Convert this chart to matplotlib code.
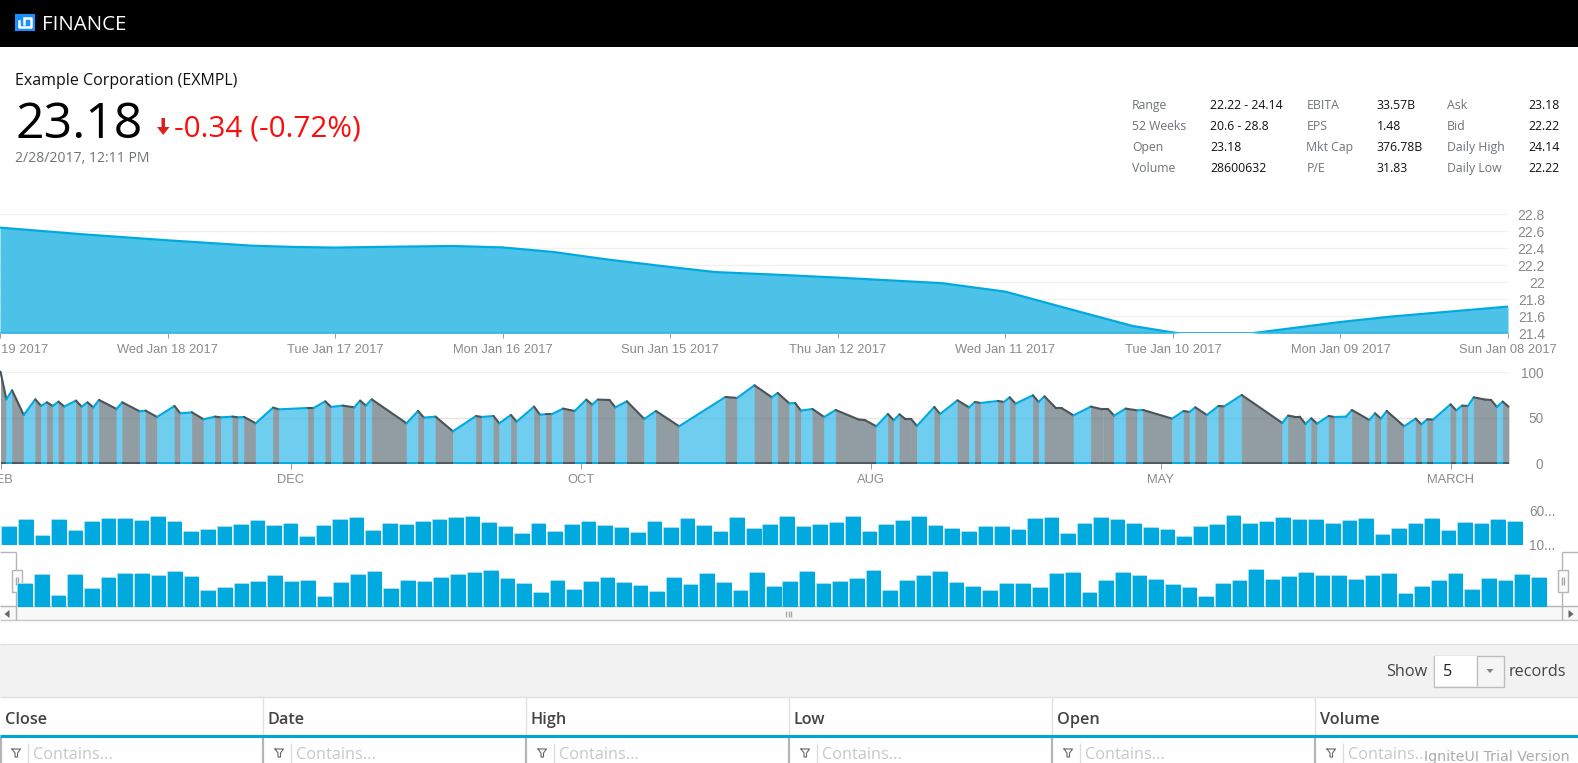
import matplotlib
matplotlib.use('Agg')
import matplotlib.pyplot as plt
from matplotlib.patches import Rectangle

W, H = 1578, 763
UI_FONT = 'Open Sans'
CHART_FONT = 'Liberation Sans'

# price chart, x is position in sessions from the left label
price_x = [0, 0.49, 1, 1.5, 1.75, 2, 2.25, 2.7, 3, 3.3, 3.63, 4, 4.27, 4.65, 5, 5.62, 6,
           6.44, 6.76, 7, 7.1, 7.41, 7.51, 8, 8.3, 9]
price_y = [22.643, 22.565, 22.494, 22.431, 22.416, 22.408, 22.416, 22.427, 22.41, 22.357,
           22.267, 22.18, 22.12, 22.088, 22.055, 21.99, 21.89, 21.655, 21.486, 21.41,
           21.385, 21.385, 21.41, 21.533, 21.596, 21.714]
price_labels = ['Thu Jan 19 2017', 'Wed Jan 18 2017', 'Tue Jan 17 2017', 'Mon Jan 16 2017',
                'Sun Jan 15 2017', 'Thu Jan 12 2017', 'Wed Jan 11 2017', 'Tue Jan 10 2017',
                'Mon Jan 09 2017', 'Sun Jan 08 2017']
price_ticks = [21.4, 21.6, 21.8, 22, 22.2, 22.4, 22.6, 22.8]

# indicator chart, x is in trading-day steps
rsi_x = [0, 1, 2, 4, 6, 7, 8, 9, 10, 11, 13, 14, 15, 16, 17, 20, 21, 24, 25, 27, 30, 31, 33, 35,
         37, 38, 40, 41, 42, 44, 47, 48, 53, 54, 56, 57, 59, 61, 62, 63, 64, 70, 72, 73, 75, 78,
         82, 83, 85, 86, 88, 89, 92, 93, 94, 95, 97, 99, 101, 102, 103, 105, 106, 108, 111, 113,
         117, 125, 127, 130, 133, 134, 136, 137, 138, 140, 142, 144, 148, 149, 151, 153, 154,
         155, 156, 157, 158, 161, 162, 165, 167, 168, 169, 172, 173, 174, 175, 178, 179, 180,
         182, 183, 185, 188, 190, 191, 192, 194, 196, 197, 202, 204, 205, 206, 208, 210, 211,
         214, 221, 222, 223, 224, 225, 226, 227, 229, 230, 232, 233, 236, 237, 238, 239, 242,
         244, 245, 246, 247, 250, 251, 252, 253, 254, 256, 257, 258, 259, 260]
rsi_y = [100.7, 70.3, 80.2, 53.1, 70.3, 63, 67, 63, 67.8, 62.3, 68.9, 62.3, 67, 61.5, 69.6, 59.7,
         67, 57.1, 57.9, 50.9, 63, 54.9, 56, 48.4, 51.3, 50.5, 51.3, 50.5, 50.9, 44, 61.2, 59.3,
         60.8, 60.8, 68.1, 61.9, 63.4, 61.5, 68.9, 63.4, 70.3, 44, 57.5, 50.2, 51.3, 35.2, 52,
         50.9, 52, 44, 53.1, 45.8, 62.3, 53.5, 53.8, 53.8, 60.1, 57.5, 70, 64.5, 70, 69.6, 61.5,
         68.1, 48.7, 57.5, 40.7, 72.9, 71.8, 85.7, 72.5, 77.3, 65.9, 66.3, 57.9, 59.7, 50.9,
         58.6, 48, 47.6, 40.7, 54.2, 47.3, 53.8, 48.7, 48.7, 41, 61.9, 54.2, 69.2, 61.5, 67.4,
         66.3, 68.5, 67.4, 72.5, 65.6, 74.7, 67.4, 73.6, 60.4, 60.4, 52.7, 62.3, 59.3, 59.3,
         52.4, 60.1, 58.2, 58.6, 49.1, 57.5, 56.4, 61.5, 53.1, 63, 62.6, 75.1, 44.3, 52.4, 51.3,
         51.3, 43.2, 49.5, 43.6, 52, 50.9, 51.3, 58.6, 47.6, 54.9, 49.1, 57.5, 40.7, 49.1, 42.9,
         48.4, 48, 64.8, 58.2, 63.4, 63, 72.5, 70, 69.6, 61.9, 67.8, 62.3]
rsi_tick_x = [0, 50, 100, 150, 200, 250]
rsi_tick_labels = ['FEB', 'DEC', 'OCT', 'AUG', 'MAY', 'MARCH']
rsi_ticks = [0, 50, 100]

# volume in millions, same series on the chart and on the range selector
volume = [36.5, 46.5, 22, 47, 30.5, 43, 48, 47.5, 45.5, 50.5, 44, 28, 31, 35.5, 38.5, 45, 38, 40,
          21, 37, 47, 50, 30, 40, 38.5, 43.5, 47, 49, 51, 41.5, 35.5, 25, 40, 29, 38.5, 43, 37,
          34, 27, 43, 34.5, 48, 37, 28, 49, 32.5, 38.5, 50.5, 36.5, 38.5, 41.5, 51.5, 28, 39.5,
          45.5, 50.5, 37, 32.5, 28, 36, 35.5, 31.5, 48, 49.5, 25, 40, 49.5, 46, 41, 35, 31.5, 21,
          36, 39, 52, 41, 44, 49, 46, 46, 41, 45.5, 48, 24, 32.5, 40, 48, 29.5, 42, 40, 46.5, 43]
volume_ticks = [10, 60]
volume_labels = ['10...', '60...']

stats_rows = [
    ['Range', '22.22 - 24.14', 'EBITA', '33.57B', 'Ask', '23.18'],
    ['52 Weeks', '20.6 - 28.8', 'EPS', '1.48', 'Bid', '22.22'],
    ['Open', '23.18', 'Mkt Cap', '376.78B', 'Daily High', '24.14'],
    ['Volume', '28600632', 'P/E', '31.83', 'Daily Low', '22.22'],
]
grid_columns = ['Close', 'Date', 'High', 'Low', 'Open', 'Volume']

BLUE_LINE = '#00aadf'
DARK_LINE = '#4a5358'
TICK_GRAY = '#8a8a8a'
GRID = '#f0f0f0'


def px_axes(fig, left, top, right, bottom):
    ax = fig.add_axes([left / W, 1 - bottom / H, (right - left) / W, (bottom - top) / H])
    ax.patch.set_alpha(0)
    for spine in ax.spines.values():
        spine.set_visible(False)
    return ax


def pt(px):
    return px * 0.72


def ui_text(ax, x, y, s, size, color='black', **kw):
    kw.setdefault('family', UI_FONT)
    ax.text(x, y, s, fontsize=pt(size), color=color, va='baseline', **kw)


def box(ax, x0, y0, x1, y1, fc='none', ec='none', lw=1, z=1):
    ax.add_patch(Rectangle((x0, y0), x1 - x0, y1 - y0, facecolor=fc, edgecolor=ec, linewidth=lw, zorder=z))


def hline(ax, x0, x1, y, color, lw=1, z=2):
    ax.plot([x0, x1], [y, y], color=color, lw=lw, solid_capstyle='butt', zorder=z)


def vline(ax, x, y0, y1, color, lw=1, z=2):
    ax.plot([x, x], [y0, y1], color=color, lw=lw, solid_capstyle='butt', zorder=z)


def draw_page(ax):
    ax.set_xlim(0, W)
    ax.set_ylim(H, 0)
    ax.axis('off')

    # header bar
    box(ax, 0, 0, W, 47, fc='black')
    box(ax, 15, 14, 35, 31, fc='#1a8fff', z=2)
    ax.plot([19.5, 19.5, 31, 31, 26], [21, 27, 27, 18, 18], color='white', lw=1.8, zorder=3)
    ax.plot([24.5, 24.5], [18, 24], color='white', lw=1.8, zorder=3)
    ui_text(ax, 42.5, 29.5, 'FINANCE', 20.5, 'white')

    # quote
    ui_text(ax, 15.5, 85, 'Example Corporation (EXMPL)', 16, '#111111')
    ui_text(ax, 15, 138, '23.18', 50, 'black')
    ax.fill([161.5, 165, 165, 169.5, 163.2, 157, 161.5], [118, 118, 127, 127, 135, 127, 127],
            color='#d9201f', lw=0, zorder=3)
    ui_text(ax, 174, 136.5, '-0.34 (-0.72%)', 29.8, '#fa0f0f')
    ui_text(ax, 15.5, 161.5, '2/28/2017, 12:11 PM', 14, '#6e7378')

    # stats table
    col_x = [1132, 1210, 1306.5, 1376.5, 1447, 1528]
    for r, row in enumerate(stats_rows):
        y = 109.3 + r * 21
        for c, s in enumerate(row):
            ui_text(ax, col_x[c], y, s, 12.2, '#6e7378' if c % 2 == 0 else '#111111')

    # range selector frame and scrollbar
    sel = '#b5b5b5'
    box(ax, 0, 606, W, 620, fc='#f8f8f8', z=1)
    hline(ax, 0, W, 606, sel, 1)
    hline(ax, 0, W, 620, '#c8c8c8', 1)
    hline(ax, 0, 16.5, 552, sel, 1)
    vline(ax, 16.5, 552, 606, sel, 1, z=6)
    hline(ax, 1562, W, 552, sel, 1)
    vline(ax, 1562, 552, 620, sel, 1, z=6)
    vline(ax, 16.5, 606, 620, sel, 1)
    for x0 in (12, 1558):
        box(ax, x0, 570, x0 + 10, 592, fc='#fafafa', ec=sel, lw=1, z=7)
        vline(ax, x0 + 3.8, 577, 585, '#aaaaaa', 1, z=8)
        vline(ax, x0 + 6.2, 577, 585, '#aaaaaa', 1, z=8)
    ax.fill([4.5, 9.5, 9.5], [614, 610, 618], color='#666666', lw=0, zorder=3)
    ax.fill([1568.5, 1573.5, 1568.5], [610, 614, 618], color='#666666', lw=0, zorder=3)
    for dx in (-2.5, 0, 2.5):
        vline(ax, 789 + dx, 611, 617, '#aaaaaa', 1)

    # grid toolbar
    box(ax, 0, 644, W, 697, fc='#f2f2f2')
    hline(ax, 0, W, 644, '#e0e0e0', 1)
    hline(ax, 0, W, 697, '#e0e0e0', 1)
    ui_text(ax, 1386, 675.5, 'Show', 16.3, '#444444')
    box(ax, 1434.5, 655.5, 1504, 686.5, fc='#f5f5f5', ec='#bdbdbd', lw=1, z=2)
    box(ax, 1435, 656, 1477, 686, fc='white', z=3)
    vline(ax, 1477, 656, 686, '#bdbdbd', 1, z=4)
    ax.fill([1486.5, 1493.5, 1490], [669, 669, 673], color='#808080', lw=0, zorder=4)
    ui_text(ax, 1443, 675.5, '5', 16.3, '#222222', zorder=5)
    ui_text(ax, 1509, 675.5, 'records', 16.3, '#444444')

    # grid header and filter row
    hline(ax, 0, W, 736, '#00a5d8', 2.2, z=3)
    for i, name in enumerate(grid_columns):
        x = i * 263
        if i > 0:
            vline(ax, x, 697, 735, '#e0e0e0', 1)
        vline(ax, x + 0.5, 737, H, '#b5b5b5', 1.6)
        ui_text(ax, x + 5, 724, name, 16.3, '#444444', weight='semibold')
        ax.plot([x + 12, x + 20.5, x + 17.5, x + 17.5, x + 15, x + 15, x + 12],
                [749, 749, 753, 757, 757, 753, 749], color='#666666', lw=0.8, zorder=3)
        vline(ax, x + 28, 743, H, '#dddddd', 1)
        ui_text(ax, x + 33, 759, 'Contains...', 16.2, '#c4c8cc')

    ax.text(1424, 757, 'IgniteUI Trial Version', fontsize=pt(14.2), color='#ababab', family='DejaVu Sans',
            va='center', zorder=9)


def draw_price(fig):
    ax = px_axes(fig, 0, 214.3, 1508, 333.3)
    ax.set_xlim(0, 9)
    ax.set_ylim(21.4, 22.8)
    ax.fill_between(price_x, price_y, 21.0, color='#4dc2e8', lw=0, zorder=2)
    ax.plot(price_x, price_y, color=BLUE_LINE, lw=1.6, zorder=3)
    ax.axhline(21.4, color='#35b5e0', lw=1.5, zorder=4)
    ax.set_xticks(range(len(price_labels)))
    ax.set_xticklabels(price_labels, family=CHART_FONT, fontsize=9.3, color=TICK_GRAY)
    ax.tick_params(axis='x', length=3.6, width=0.7, color='#999999', pad=4)
    ax.yaxis.tick_right()
    ax.set_yticks(price_ticks)
    ax.set_yticklabels([f'{v:g}' for v in price_ticks], family=CHART_FONT, fontsize=10,
                       color=TICK_GRAY, ha='right')
    ax.tick_params(axis='y', length=0, pad=pt(37))
    ax.grid(axis='y', color=GRID, lw=1)
    ax.set_axisbelow(True)


def draw_rsi(fig):
    ax = px_axes(fig, 0.5, 372.3, 1508.5, 463.3)
    ax.set_xlim(0, 260)
    ax.set_ylim(0, 100)
    ax.grid(axis='y', color=GRID, lw=1)
    ax.set_axisbelow(True)
    for i in range(len(rsi_x) - 1):
        xs = rsi_x[i:i + 2]
        ys = rsi_y[i:i + 2]
        rising = ys[1] > ys[0]
        fill = '#6fcdef' if rising else '#919da3'
        # thin edge in the fill colour closes the seams between segments
        ax.fill_between(xs, ys, 0, facecolor=fill, edgecolor=fill, lw=0.5, zorder=2)
        line = BLUE_LINE if rising else DARK_LINE
        ax.plot(xs, ys, color=line, lw=1.5, clip_on=False, solid_capstyle='round', zorder=3)
        ax.plot(xs, [0, 0], color=line, lw=1.3, clip_on=False, solid_capstyle='butt', zorder=3)
    ax.axhline(50, color='black', alpha=0.04, lw=1, zorder=2.5)
    ax.set_xticks(rsi_tick_x)
    ax.set_xticklabels(rsi_tick_labels, family=CHART_FONT, fontsize=9.3, color=TICK_GRAY)
    ax.tick_params(axis='x', length=4, width=0.7, color='#999999', pad=4)
    ax.yaxis.tick_right()
    ax.set_yticks(rsi_ticks)
    ax.set_yticklabels([str(v) for v in rsi_ticks], family=CHART_FONT, fontsize=9.8,
                       color=TICK_GRAY, ha='right')
    ax.tick_params(axis='y', length=0, pad=pt(35))


def draw_volume(fig, left, top, right, bottom, with_axis):
    ax = px_axes(fig, left, top, right, bottom)
    heights = [v - 10 for v in volume]
    # light halo first, then the solid bar, round joins give the soft corners
    halo = ax.bar(range(len(volume)), heights, bottom=10, width=0.82, color='#00aadf',
                  edgecolor='#a6e0f5', linewidth=1.4, clip_on=False)
    solid = ax.bar(range(len(volume)), heights, bottom=10, width=0.82, color='#00aadf',
                   edgecolor='#00aadf', linewidth=0.8, clip_on=False)
    for bar in list(halo) + list(solid):
        bar.set_joinstyle('round')
    ax.set_xlim(-0.5, len(volume) - 0.5)
    ax.set_ylim(10, 60)
    ax.set_xticks([])
    if with_axis:
        ax.yaxis.tick_right()
        ax.set_yticks(volume_ticks)
        ax.set_yticklabels(volume_labels, family=CHART_FONT, fontsize=9.8, color=TICK_GRAY)
        ax.tick_params(axis='y', length=0, pad=pt(6))
    else:
        ax.set_yticks([])


fig = plt.figure(figsize=(W / 100, H / 100), dpi=100, facecolor='white')
page = fig.add_axes([0, 0, 1, 1])
draw_page(page)
draw_price(fig)
draw_rsi(fig)
draw_volume(fig, 1, 511, 1523, 544.3, True)
draw_volume(fig, 17, 563.7, 1547, 606, False)

fig.savefig('out.png', dpi=100)
